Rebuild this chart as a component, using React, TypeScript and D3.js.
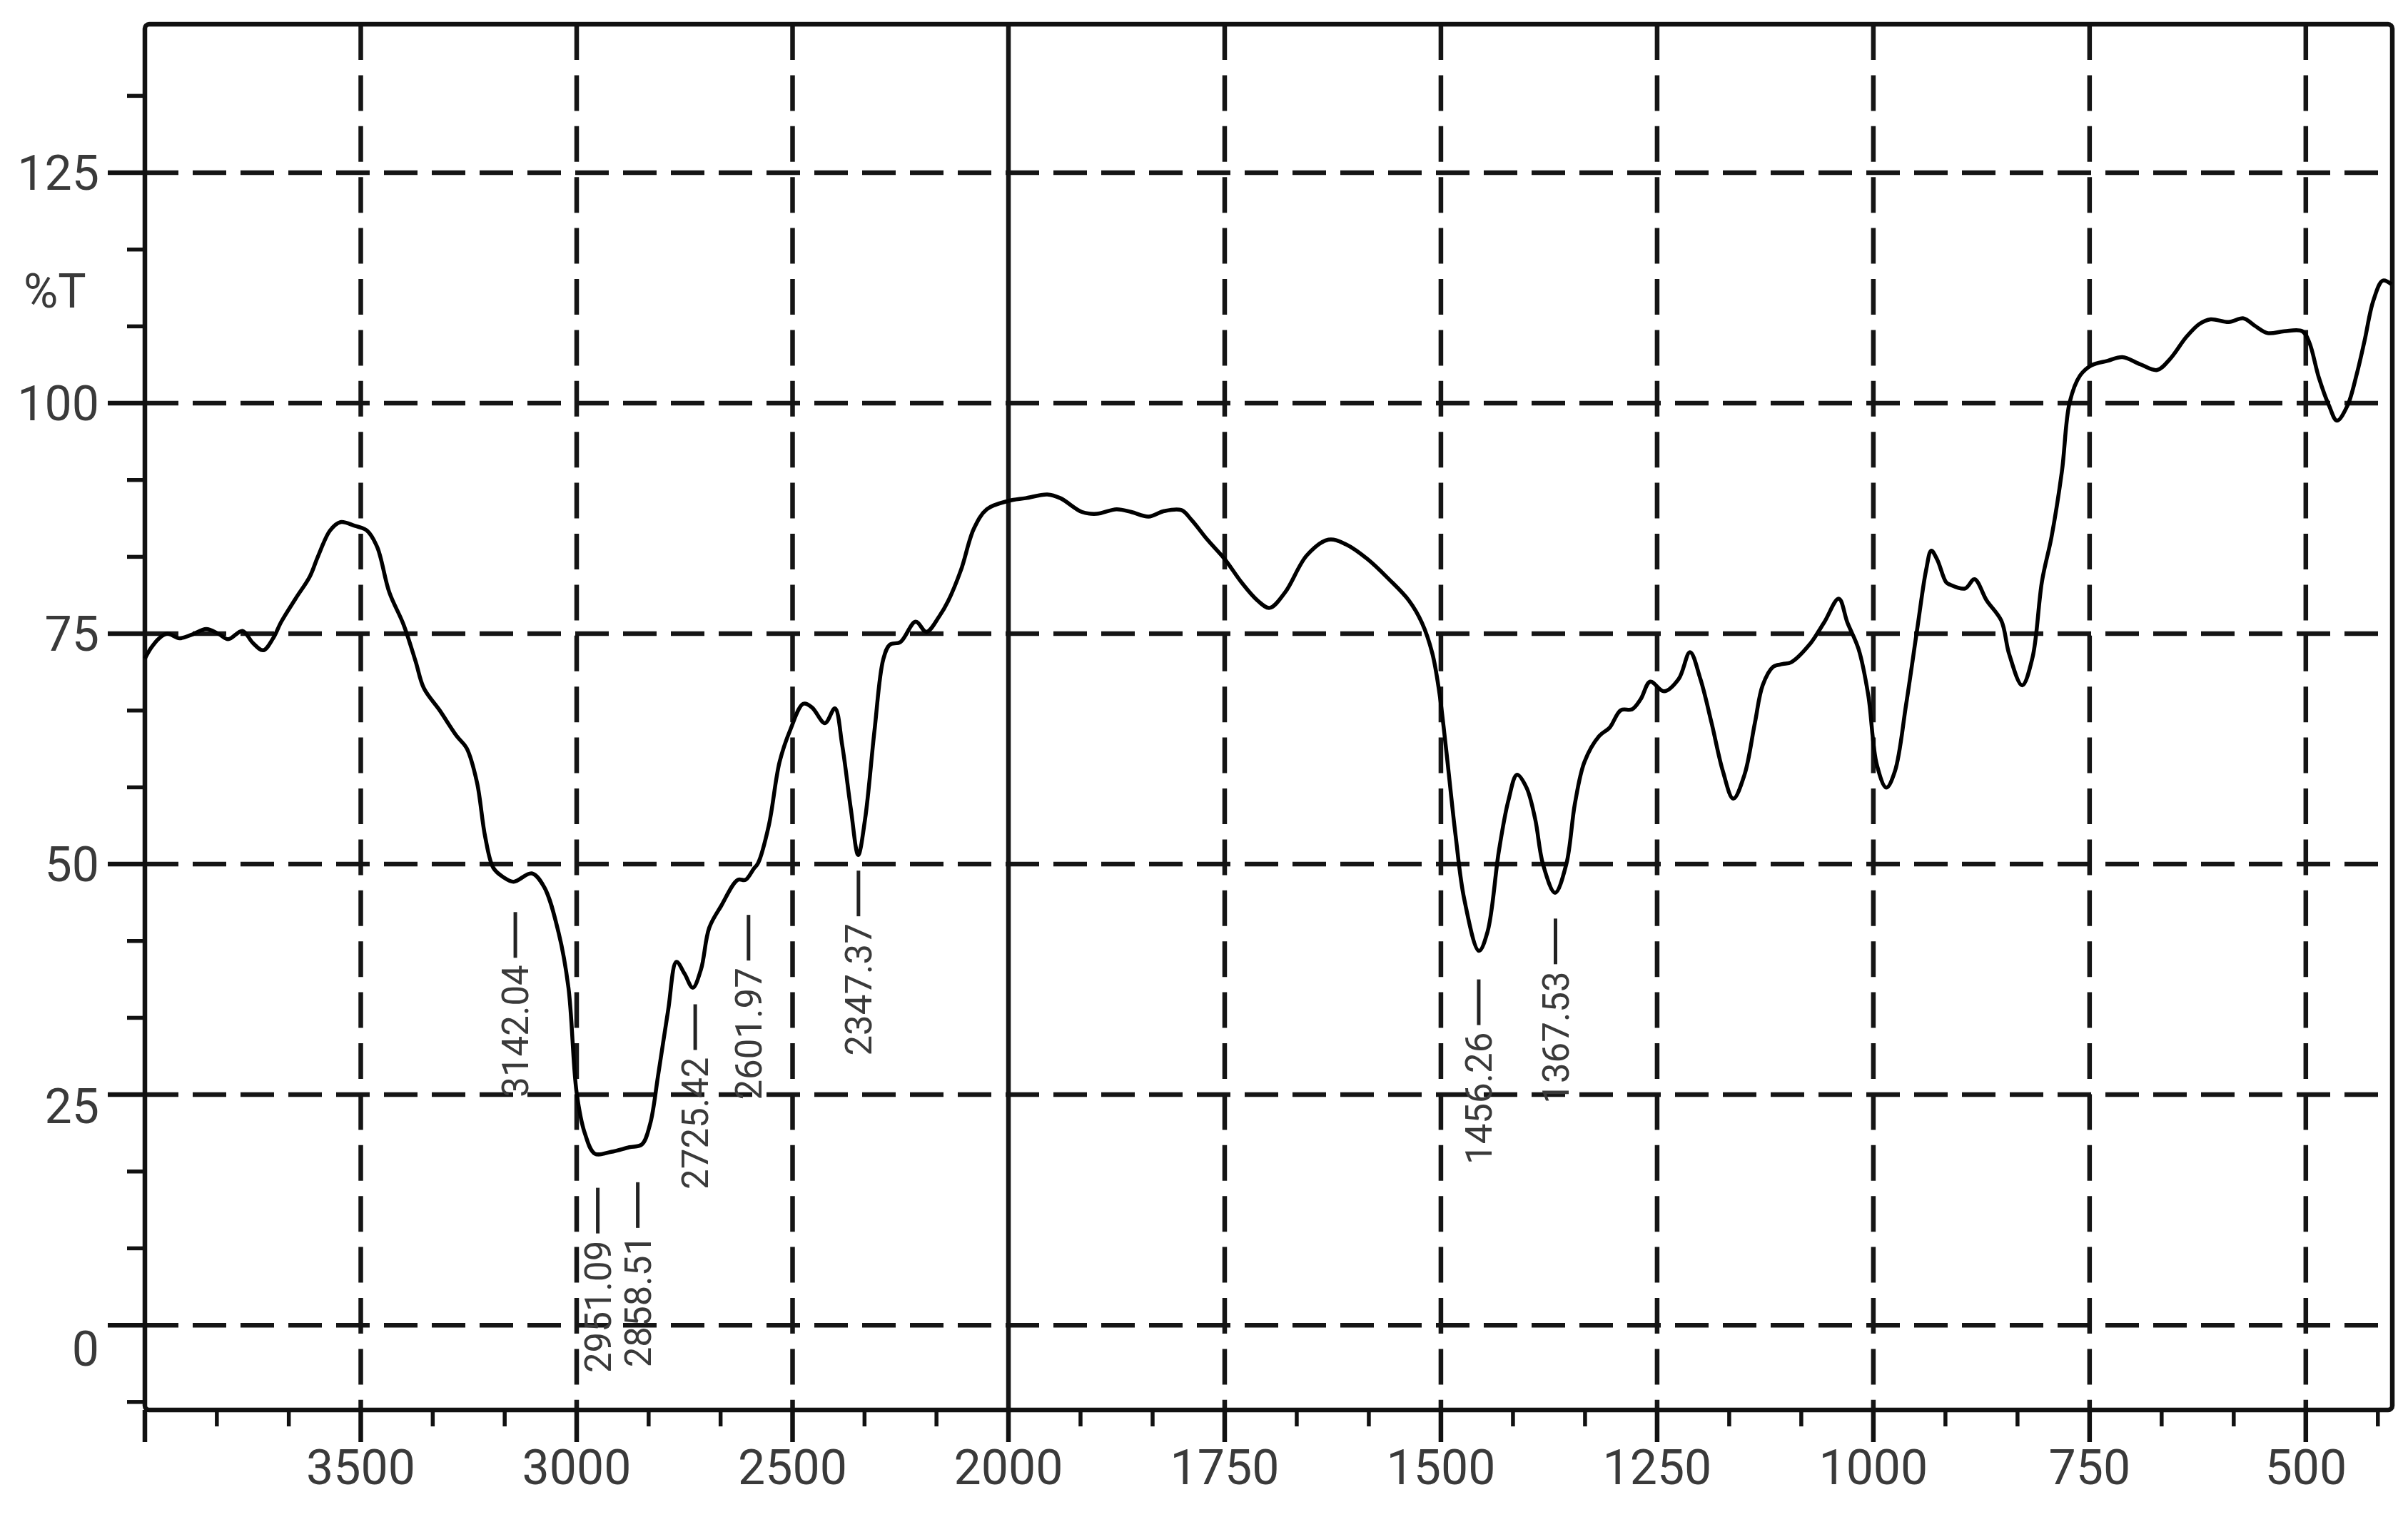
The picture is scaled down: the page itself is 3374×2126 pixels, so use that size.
import React from "react";
import * as d3 from "d3";

// ---- Spectrum data (wavenumber cm-1, %T) ----
const wavenumbers = [
  4000, 3985, 3967, 3948, 3920, 3891, 3858, 3830, 3807, 3774, 3750, 3726, 3703, 3684, 3651,
  3618, 3599, 3571, 3547, 3514, 3486, 3462, 3434, 3401, 3373, 3354, 3316, 3278, 3255, 3231,
  3212, 3193, 3170, 3146, 3104, 3075, 3042, 3019, 3000, 2981, 2958, 2920, 2878, 2849, 2830,
  2811, 2788, 2769, 2750, 2731, 2712, 2693, 2665, 2627, 2609, 2590, 2580, 2555, 2530, 2505,
  2475, 2455, 2425, 2402, 2385, 2365, 2348, 2332, 2310, 2290, 2275, 2250, 2215, 2190, 2160,
  2140, 2110, 2080, 2050, 2000, 1980, 1955, 1940, 1915, 1898, 1875, 1858, 1838, 1820, 1800,
  1788, 1770, 1750, 1730, 1712, 1698, 1680, 1655, 1630, 1610, 1585, 1560, 1537, 1522, 1510,
  1502, 1494, 1483, 1473, 1456, 1446, 1433, 1422, 1412, 1401, 1391, 1382, 1368, 1355, 1345,
  1334, 1317, 1305, 1292, 1279, 1269, 1258, 1242, 1225, 1212, 1200, 1187, 1174, 1162, 1149,
  1137, 1128, 1116, 1105, 1095, 1074, 1057, 1040, 1030, 1017, 1006, 996, 985, 975, 962,
  949, 939, 933, 926, 916, 911, 894, 883, 869, 852, 843, 828, 816, 805, 794,
  782, 773, 761, 748, 729, 712, 691, 672, 657, 638, 623, 610, 589, 572, 559,
  544, 525, 504, 496, 485, 473, 464, 452, 441, 432, 422, 411, 401,
];
const transmittance = [
  72.3, 73.5, 74.5, 75.0, 74.5, 74.9, 75.5, 75.0, 74.4, 75.3, 74.0, 73.2, 74.5, 76.3, 78.8,
  81.2, 83.4, 86.2, 87.1, 86.7, 86.2, 84.4, 79.5, 76.0, 72.0, 69.1, 66.6, 63.9, 62.6, 58.9,
  53.0, 49.6, 48.6, 48.1, 49.0, 47.5, 42.6, 36.6, 25.2, 20.8, 18.6, 18.8, 19.3, 19.6, 21.8,
  27.2, 34.2, 39.4, 38.1, 36.6, 38.6, 43.1, 45.5, 48.3, 48.3, 49.5, 50.1, 54.2, 61.1, 64.6,
  67.4, 67.0, 65.3, 66.9, 62.9, 56.0, 51.0, 54.9, 64.6, 72.2, 73.8, 74.1, 76.3, 75.2, 76.9,
  78.5, 81.9, 86.4, 88.5, 89.4, 89.7, 90.1, 89.7, 88.2, 88.0, 88.5, 88.2, 87.7, 88.3, 88.4,
  87.3, 85.2, 83.1, 80.5, 78.6, 77.8, 79.5, 83.5, 85.2, 84.7, 83.1, 80.9, 78.6, 76.2, 72.9,
  68.75, 62.5, 53.1, 46.2, 40.6, 42.7, 51.4, 56.9, 59.7, 58.3, 54.9, 50.0, 46.9, 50.0, 56.6,
  61.1, 63.9, 64.8, 66.7, 66.8, 67.9, 69.8, 68.75, 70.1, 73.0, 70.1, 65.3, 60.1, 57.1, 59.7,
  65.3, 69.4, 71.4, 71.7, 71.9, 73.8, 76.2, 78.8, 76.2, 73.3, 68.4, 60.8, 58.3, 60.1, 67.4,
  75.7, 81.9, 84.0, 83.0, 80.6, 80.3, 79.9, 80.9, 78.6, 76.4, 72.8, 69.4, 72.4, 80.7, 85.5,
  92.6, 100.1, 103.0, 104.1, 104.6, 105.0, 104.2, 103.6, 104.8, 107.2, 108.6, 109.1, 108.8, 109.2, 108.4,
  107.6, 107.8, 107.8, 106.6, 102.8, 99.7, 98.1, 99.7, 103.2, 106.8, 111.1, 113.3, 112.9,
];

// ---- Axis ticks ----
const yTickValues = [0, 25, 50, 75, 100, 125];
const yTickLabels = ["0", "25", "50", "75", "100", "125"];
const xTickValues = [3500, 3000, 2500, 2000, 1750, 1500, 1250, 1000, 750, 500];
const xTickLabels = ["3500", "3000", "2500", "2000", "1750", "1500", "1250", "1000", "750", "500"];
const yAxisTitle = "%T";

// ---- Peak annotations ----
const peakWavenumbers = [3142.04, 2951.09, 2858.51, 2725.42, 2601.97, 2347.37, 1456.26, 1367.53];
const peakLabels = ["3142.04", "2951.09", "2858.51", "2725.42", "2601.97", "2347.37", "1456.26", "1367.53"];
const peakMarkerTop = [44.8, 14.9, 15.5, 34.8, 44.5, 49.3, 37.5, 44.1];

const W = 3374;
const H = 2126;
const LEFT = 203;
const RIGHT = 3352;
const TOP = 34;
const BOTTOM = 1976;
const FONT = "Roboto, 'Liberation Sans', Arial, sans-serif";

export default function App() {
  const x = d3.scaleLinear().domain([4000, 2000, 400]).range([LEFT, 1413, RIGHT]);
  const y = d3.scaleLinear().domain([-9.2, 141.1]).range([BOTTOM, TOP]);

  const pts = wavenumbers.map((w, i) => [w, transmittance[i]] as [number, number]);
  const line = d3
    .line<[number, number]>()
    .x((d) => x(d[0]))
    .y((d) => y(d[1]))
    .curve(d3.curveCatmullRom.alpha(0.5));

  const yMinor = d3.range(-25 / 3, 141, 25 / 3).filter((v) => Math.abs(v / 25 - Math.round(v / 25)) > 0.01);
  const xMinorHigh = d3.range(4000, 2000, -500 / 3).filter((v) => v % 500 !== 0);
  const xMinorLow = d3.range(2000, 400, -250 / 3).filter((v) => Math.abs(v / 250 - Math.round(v / 250)) > 0.01);
  const xMinor = [...xMinorHigh, ...xMinorLow];

  const yLabelShift = (v: number) => (v === 0 ? 33 : v === 25 ? 16 : 0);

  const gridColor = "#151515";
  const labelColor = "#3a3a3a";

  return (
    <svg
      width={W}
      height={H}
      viewBox={`0 0 ${W} ${H}`}
      style={{ position: "absolute", left: 0, top: 0, background: "#fff" }}
    >
      <rect x={0} y={0} width={W} height={H} fill="#fff" />

      {/* horizontal dashed gridlines */}
      {yTickValues.map((v) => (
        <line
          key={"hg" + v}
          x1={LEFT}
          x2={RIGHT}
          y1={y(v)}
          y2={y(v)}
          stroke={gridColor}
          strokeWidth={6.5}
          strokeDasharray="47 20"
        />
      ))}

      {/* vertical gridlines */}
      {xTickValues.map((v) => (
        <line
          key={"vg" + v}
          x1={x(v)}
          x2={x(v)}
          y1={TOP}
          y2={BOTTOM}
          stroke={gridColor}
          strokeWidth={6.5}
          strokeDasharray={v === 2000 ? undefined : "50 21.4"}
        />
      ))}

      {/* frame */}
      <rect
        x={LEFT}
        y={TOP}
        width={RIGHT - LEFT}
        height={BOTTOM - TOP}
        fill="none"
        stroke="#111"
        strokeWidth={6.5}
        rx={6}
      />

      {/* y ticks */}
      {yTickValues.map((v) => (
        <line key={"yt" + v} x1={LEFT - 52} x2={LEFT} y1={y(v)} y2={y(v)} stroke="#111" strokeWidth={6.5} />
      ))}
      {yMinor.map((v) => (
        <line key={"ym" + v} x1={LEFT - 25} x2={LEFT} y1={y(v)} y2={y(v)} stroke="#111" strokeWidth={5.5} />
      ))}
      {yTickValues.map((v, i) => (
        <text
          key={"yl" + v}
          x={139}
          y={y(v) + yLabelShift(v)}
          dy="0.355em"
          textAnchor="end"
          fontFamily={FONT}
          fontSize={68}
          fill={labelColor}
        >
          {yTickLabels[i]}
        </text>
      ))}
      <text x={33} y={408} dy="0.355em" fontFamily={FONT} fontSize={66} fill={labelColor}>
        {yAxisTitle}
      </text>

      {/* x ticks */}
      {[4000, ...xTickValues].map((v) => (
        <line key={"xt" + v} x1={x(v)} x2={x(v)} y1={BOTTOM} y2={BOTTOM + 45} stroke="#111" strokeWidth={6.5} />
      ))}
      {xMinor.map((v) => (
        <line key={"xm" + v} x1={x(v)} x2={x(v)} y1={BOTTOM} y2={BOTTOM + 23} stroke="#111" strokeWidth={5.5} />
      ))}
      {xTickValues.map((v, i) => (
        <text
          key={"xl" + v}
          x={x(v)}
          y={2080}
          textAnchor="middle"
          fontFamily={FONT}
          fontSize={68}
          fill={labelColor}
        >
          {xTickLabels[i]}
        </text>
      ))}

      {/* spectrum */}
      <path d={line(pts) ?? ""} fill="none" stroke="#000" strokeWidth={5.5} strokeLinejoin="round" />

      {/* peak annotations */}
      {peakWavenumbers.map((w, i) => {
        const px = x(w);
        const y0 = y(peakMarkerTop[i]);
        const y1 = y0 + 64;
        const ty = y1 + 10;
        return (
          <g key={"pk" + i}>
            <line x1={px} x2={px} y1={y0} y2={y1} stroke="#222" strokeWidth={5} />
            <text
              transform={`translate(${px},${ty}) rotate(-90)`}
              textAnchor="end"
              dy="0.355em"
              fontFamily={FONT}
              fontSize={51}
              fill={labelColor}
            >
              {peakLabels[i]}
            </text>
          </g>
        );
      })}
    </svg>
  );
}
